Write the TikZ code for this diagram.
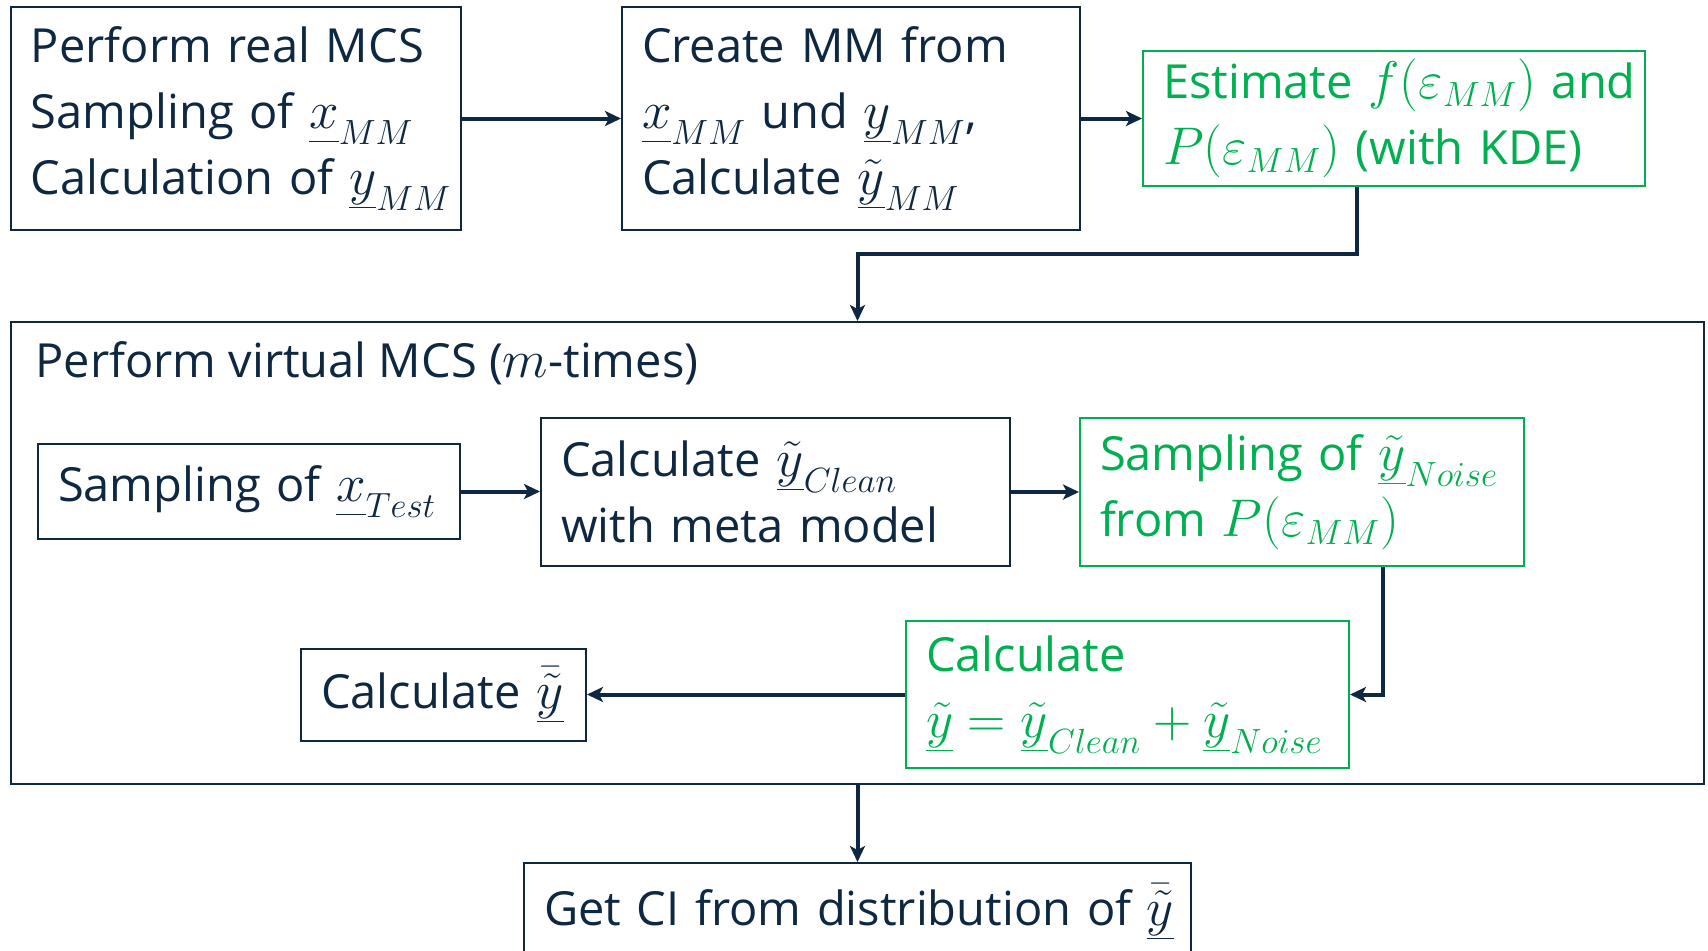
\documentclass[tikz,border=0pt]{standalone}
\usepackage{fix-cm}
\usepackage{fontspec}
\setmainfont{Open Sans}
\usetikzlibrary{arrows.meta}
\definecolor{navy}{HTML}{0E2841}
\definecolor{ogreen}{HTML}{00B050}
% larger math so that italic symbols match the body text height
\DeclareMathSizes{23.5}{26.5}{17.5}{13}
% vector quantities: underlined at a common depth
\newcommand{\vv}[1]{\underline{#1\vphantom{y}}}
% one unbreakable line of box text
\newcommand{\bline}[1]{\mbox{#1}}

\begin{document}
\begin{tikzpicture}[x=0.5pt,y=-0.5pt,
  every node/.style={font=\fontsize{23.5}{33}\selectfont},
  boxbase/.style={draw, line width=1pt, rectangle, align=left, inner xsep=10pt, inner ysep=0pt},
  navybox/.style={boxbase, draw=navy, text=navy},
  greenbox/.style={boxbase, draw=ogreen, text=ogreen},
  conn/.style={draw=navy, line width=2pt, -{Stealth[length=8pt,width=7.5pt,inset=2pt]}},
]
\useasboundingbox (0,0) rectangle (1708,950);
\fill[white] (0,0) rectangle (1708,950);
\clip (0,0) rectangle (1708,950);

% top row: real Monte Carlo simulation and meta model
\node[navybox, text width=205pt, minimum height=111.5pt] (B1) at (236,118.5)
  {\bline{Perform real MCS}\\ \bline{Sampling of $\vv{x}_{MM}$}\\ \bline{Calculation of $\vv{y}_{MM}$}};
\node[navybox, text width=209pt, minimum height=111.5pt] (B2) at (851,118.5)
  {\bline{Create MM from}\\ \bline{$\vv{x}_{MM}$ und $\vv{y}_{MM}$,}\\ \bline{Calculate $\vv{\tilde{y}}_{MM}$}};
\node[greenbox, text width=231pt, minimum height=67.5pt] (B3) at (1394,118.5)
  {\bline{Estimate $f(\varepsilon_{MM})$ and}\\ \bline{$P(\varepsilon_{MM})$ (with KDE)}};

% virtual MCS frame
\node[draw=navy, line width=1pt, inner sep=0pt, minimum width=846.5pt, minimum height=231pt] (big) at (857.5,553) {};
\node[anchor=west, inner sep=0pt, text=navy] (ttl) at (35,363) {Perform virtual MCS ($m$-times)};

\node[navybox, text width=191pt, minimum height=47.5pt] (Sx) at (249,491.5)
  {\bline{Sampling of $\vv{x}_{Test}$}};
\node[navybox, text width=214.5pt, minimum height=74pt] (Sc) at (775.5,492)
  {\bline{Calculate $\vv{\tilde{y}}_{Clean}$}\\ \bline{with meta model}};
\node[greenbox, text width=202pt, minimum height=74pt] (Sn) at (1302,492)
  {\bline{Sampling of $\vv{\tilde{y}}_{Noise}$}\\ \bline{from $P(\varepsilon_{MM})$}};
\node[greenbox, text width=201.5pt, minimum height=73.5pt] (Cg) at (1127.5,694.5)
  {\bline{Calculate}\\ \bline{$\vv{\tilde{y}} = \vv{\tilde{y}}_{Clean} + \vv{\tilde{y}}_{Noise}$}};
\node[navybox, text width=122.5pt, minimum height=46pt] (Cy) at (443.5,695)
  {\bline{Calculate $\vv{\bar{\tilde{y}}}$}};

% result
\node[navybox, text width=313.5pt, minimum height=48.5pt] (Bot) at (857.5,911.5)
  {\bline{Get CI from distribution of $\vv{\bar{\tilde{y}}}$}};

% connectors
\coordinate (k1) at (857.5,254);
\draw[conn] (B1.east) -- (B1.east -| B2.west);
\draw[conn] (B2.east) -- (B2.east -| B3.west);
\draw[conn] ([xshift=-18.5pt]B3.south) |- (k1) -- (big.north);
\draw[conn] (Sx.east) -- (Sx.east -| Sc.west);
\draw[conn] (Sc.east) -- (Sc.east -| Sn.west);
\draw[conn] ([xshift=40.5pt]Sn.south) |- (Cg.east);
\draw[conn] (Cg.west) -- (Cg.west -| Cy.east);
\draw[conn] (big.south) -- (Bot.north);
\end{tikzpicture}
\end{document}
